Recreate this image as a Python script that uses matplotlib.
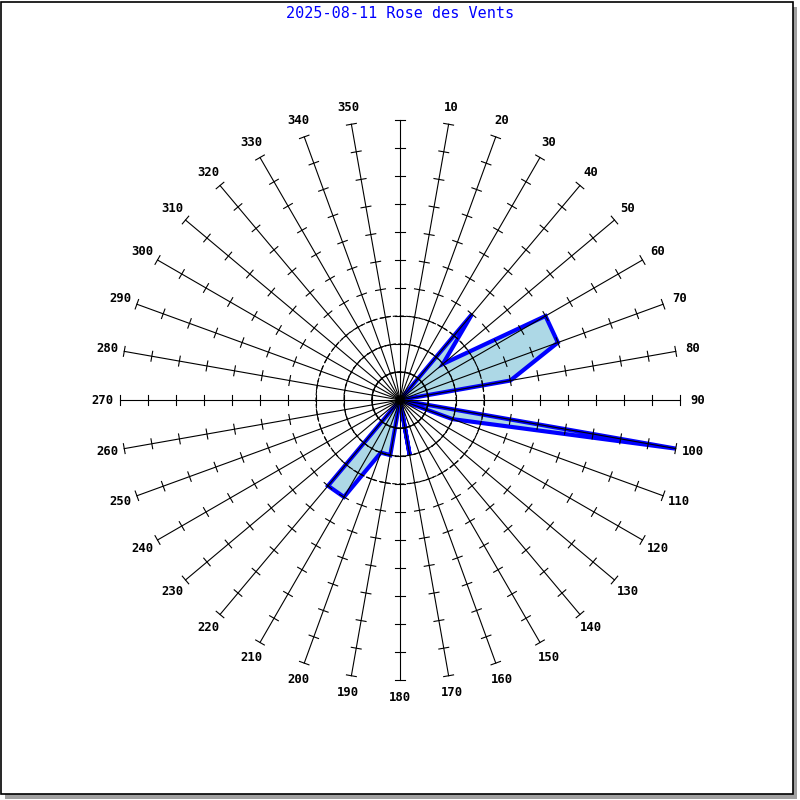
import numpy as np
import matplotlib
matplotlib.use("Agg")
import matplotlib.pyplot as plt
from matplotlib.patches import Polygon, Circle, Rectangle

# Wind rose data: direction (degrees) and frequency (in ring units, 0-10)
directions = list(range(0, 360, 10))
frequencies = [0, 0, 0, 0, 4, 2, 6, 6, 4, 0,
               10, 2, 0, 0, 0, 0, 0, 2, 0, 2,
               2, 4, 4, 0, 0, 0, 0, 0, 0, 0,
               0, 0, 0, 0, 0, 0]
n_ticks = 10
rings = [1, 2, 3]
title = "2025-08-11 Rose des Vents"

PX = 28.0  # pixels per unit
half = 400 / PX

fig = plt.figure(figsize=(8, 8), dpi=100)
ax = fig.add_axes([0, 0, 1, 1])
ax.set_xlim(-half, half)
ax.set_ylim(-half, half)
ax.set_aspect("equal")
ax.axis("off")


def to_xy(deg, r):
    t = np.radians(deg)
    return r * np.sin(t), r * np.cos(t)


# frame with drop shadow
u = 1 / PX
ax.add_patch(Rectangle((-half + 5 * u, -half + 1 * u), 792 * u, 792 * u,
                       facecolor="#a0a0a0", edgecolor="none", zorder=0))
ax.add_patch(Rectangle((-half + 1 * u, -half + 6 * u), 792 * u, 792 * u,
                       facecolor="white", edgecolor="black", linewidth=1.2, zorder=1))

# data polygon
pts = [to_xy(d, f) for d, f in zip(directions, frequencies)]
ax.add_patch(Polygon(pts, closed=True, facecolor="#add8e6", edgecolor="#0000ff",
                     linewidth=3.0, joinstyle="miter", zorder=2))

# dashed rings
for r in rings:
    ax.add_patch(Circle((0, 0), r, fill=False, edgecolor="black", linewidth=0.8,
                        linestyle=(0, (4, 2)), zorder=3))

# spokes with ticks and labels
tick_half = 5 / PX
for d in directions:
    x1, y1 = to_xy(d, n_ticks)
    ax.plot([0, x1], [0, y1], color="black", linewidth=0.8, zorder=4)
    t = np.radians(d)
    px, py = np.cos(t), -np.sin(t)
    for k in range(1, n_ticks + 1):
        cx, cy = to_xy(d, k)
        ax.plot([cx - px * tick_half, cx + px * tick_half],
                [cy - py * tick_half, cy + py * tick_half],
                color="black", linewidth=0.8, zorder=4)
    lx, ly = to_xy(d, n_ticks + 0.62)
    if d != 0:
        ax.text(lx, ly, str(d), ha="center", va="center", fontsize=8.8,
                family="DejaVu Sans Mono", fontweight="bold", zorder=5)

ax.add_patch(Circle((0, 0), 4.5 / PX, facecolor="black", edgecolor="none", zorder=5))

ax.text(0, half - 14 / PX, title, ha="center", va="center", color="#0000ff",
        fontsize=10.9, family="DejaVu Sans Mono", zorder=5)

fig.savefig("out.png", dpi=100)
